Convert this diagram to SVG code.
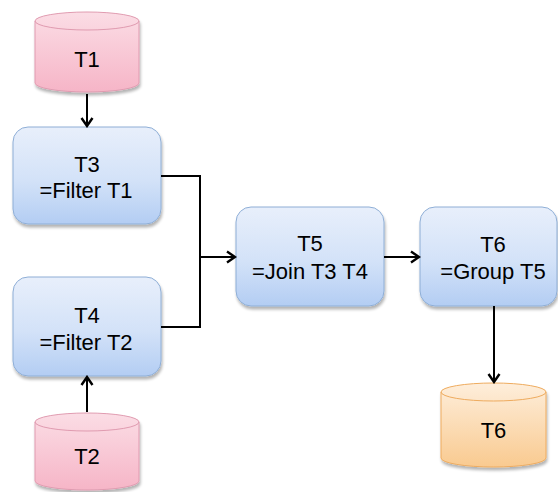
<svg xmlns="http://www.w3.org/2000/svg" width="558" height="492" viewBox="0 0 558 492">
  <style>
    .lbl { font-family: "Liberation Sans", Arial, sans-serif; font-size: 22px; fill: #000; text-anchor: middle; }
    .box { fill: url(#gBlue); stroke: #8eaed6; stroke-width: 1; filter: url(#shadow); }
    .db-pink { fill: url(#gPink); stroke: #e09bb0; stroke-width: 1; filter: url(#shadow); }
    .db-pink-rim { fill: none; stroke: #e09bb0; stroke-width: 1; }
    .db-orange { fill: url(#gOrange); stroke: #eeab5e; stroke-width: 1; filter: url(#shadow); }
    .db-orange-rim { fill: none; stroke: #eeab5e; stroke-width: 1; }
    .wire { fill: none; stroke: #000; stroke-width: 2; }
  </style>
  <defs>
    <linearGradient id="gBlue" x1="0" y1="0" x2="0" y2="1">
      <stop offset="0" stop-color="#e8effb"/>
      <stop offset="0.55" stop-color="#d3e2f8"/>
      <stop offset="1" stop-color="#b3cdf3"/>
    </linearGradient>
    <linearGradient id="gPink" x1="0" y1="0" x2="0" y2="1">
      <stop offset="0" stop-color="#fbdde5"/>
      <stop offset="1" stop-color="#f6b5c7"/>
    </linearGradient>
    <linearGradient id="gOrange" x1="0" y1="0" x2="0" y2="1">
      <stop offset="0" stop-color="#feeedb"/>
      <stop offset="1" stop-color="#f9ca90"/>
    </linearGradient>
    <filter id="shadow" x="-10%" y="-10%" width="125%" height="130%">
      <feGaussianBlur in="SourceAlpha" stdDeviation="1.6"/>
      <feOffset dx="1" dy="2.5" result="b"/>
      <feComponentTransfer><feFuncA type="linear" slope="0.3"/></feComponentTransfer>
      <feMerge><feMergeNode/><feMergeNode in="SourceGraphic"/></feMerge>
    </filter>
    <marker id="arrow" viewBox="0 0 14 14" refX="12" refY="7" markerWidth="14" markerHeight="14" markerUnits="userSpaceOnUse" orient="auto">
      <path d="M4,1.5 L12,7 L4,12.5" fill="none" stroke="#000" stroke-width="2.4"/>
    </marker>
  </defs>

  <!-- source table T1 -->
  <g id="t1">
    <path class="db-pink" d="M35,21 V83 A52,9 0 0,0 139,83 V21 A52,9 0 0,0 35,21 Z"/>
    <path class="db-pink-rim" d="M35,21 A52,9 0 0,0 139,21"/>
    <text class="lbl" x="87" y="67">T1</text>
  </g>

  <!-- source table T2 -->
  <g id="t2">
    <path class="db-pink" d="M35,422 V481 A52,9 0 0,0 139,481 V422 A52,9 0 0,0 35,422 Z"/>
    <path class="db-pink-rim" d="M35,422 A52,9 0 0,0 139,422"/>
    <text class="lbl" x="87" y="464">T2</text>
  </g>

  <!-- T3 = Filter T1 -->
  <g id="t3">
    <rect class="box" x="13" y="127" width="148" height="97" rx="15"/>
    <text class="lbl" x="87" y="172">T3</text>
    <text class="lbl" x="86" y="198">=Filter T1</text>
  </g>

  <!-- T4 = Filter T2 -->
  <g id="t4">
    <rect class="box" x="13" y="277" width="148" height="99" rx="15"/>
    <text class="lbl" x="87" y="323">T4</text>
    <text class="lbl" x="86" y="350">=Filter T2</text>
  </g>

  <!-- T5 = Join T3 T4 -->
  <g id="t5">
    <rect class="box" x="236" y="207" width="148" height="99" rx="15"/>
    <text class="lbl" x="310" y="251">T5</text>
    <text class="lbl" x="310" y="279">=Join T3 T4</text>
  </g>

  <!-- T6 = Group T5 -->
  <g id="t6">
    <rect class="box" x="420" y="207" width="137" height="99" rx="15"/>
    <text class="lbl" x="493" y="252">T6</text>
    <text class="lbl" x="493" y="279">=Group T5</text>
  </g>

  <!-- output table T6 -->
  <g id="t6-out">
    <path class="db-orange" d="M441,392 V458 A52.5,9 0 0,0 546,458 V392 A52.5,9 0 0,0 441,392 Z"/>
    <path class="db-orange-rim" d="M441,392 A52.5,9 0 0,0 546,392"/>
    <text class="lbl" x="493.5" y="438">T6</text>
  </g>

  <!-- connectors -->
  <g id="connectors">
    <path class="wire" d="M87,94 V126" marker-end="url(#arrow)"/>
    <path class="wire" d="M87,412 V377" marker-end="url(#arrow)"/>
    <path class="wire" d="M161,176 H200 V327 H161"/>
    <path class="wire" d="M200,257 H235" marker-end="url(#arrow)"/>
    <path class="wire" d="M384,257 H419" marker-end="url(#arrow)"/>
    <path class="wire" d="M494,306 V382" marker-end="url(#arrow)"/>
  </g>
</svg>
